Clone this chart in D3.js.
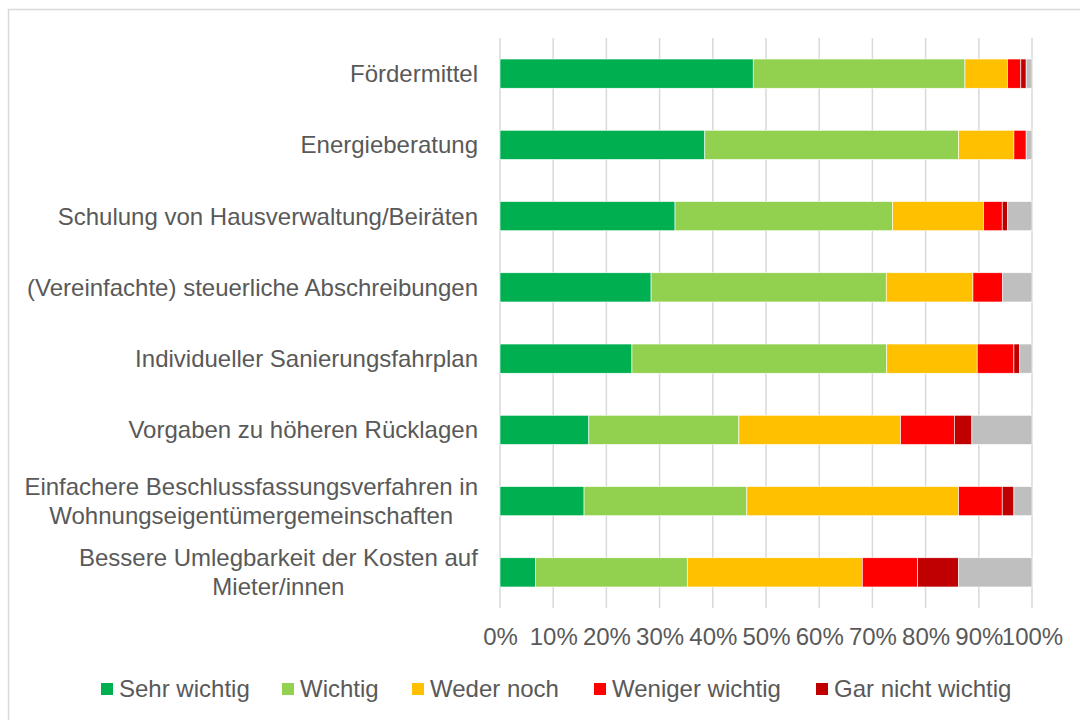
<!DOCTYPE html>
<html lang='de'>
  <meta charset='utf-8'>
  <style>
    body{
      margin: 0;
      background: #fff;
    }
    svg{
      display: block;
      font-family: 'Liberation Sans', Arial, sans-serif;
    }
    text{
      fill: #595959;
      font-size: 24px;
    }
  </style>
  <body>
    <svg width='1080' height='720'></svg>

    <script src='https://d3js.org/d3.v7.min.js'></script>
    <script>
      // Kategorien (von oben nach unten), Zeilenumbruch mit \n
      const categories = [
        'Fördermittel',
        'Energieberatung',
        'Schulung von Hausverwaltung/Beiräten',
        '(Vereinfachte) steuerliche Abschreibungen',
        'Individueller Sanierungsfahrplan',
        'Vorgaben zu höheren Rücklagen',
        'Einfachere Beschlussfassungsverfahren in\nWohnungseigentümergemeinschaften',
        'Bessere Umlegbarkeit der Kosten auf\nMieter/innen'
      ]

      const seriesNames = ['Sehr wichtig', 'Wichtig', 'Weder noch', 'Weniger wichtig', 'Gar nicht wichtig', 'Keine Angabe']
      const seriesColors = ['#00b050', '#92d050', '#ffc000', '#ff0000', '#c00000', '#bfbfbf']

      // Anteile in %, je Kategorie
      const sehrWichtig     = [47.6, 38.5, 32.9, 28.4, 24.8, 16.7, 15.8, 6.7]
      const wichtig         = [39.8, 47.7, 40.9, 44.2, 47.9, 28.2, 30.6, 28.5]
      const wederNoch       = [8.0, 10.4, 17.1, 16.3, 17.0, 30.4, 39.8, 32.9]
      const wenigerWichtig  = [2.5, 2.3, 3.5, 5.6, 6.9, 10.1, 8.2, 10.4]
      const garNichtWichtig = [1.0, 0.0, 1.0, 0.0, 1.1, 3.3, 2.2, 7.7]
      const keineAngabe     = [1.1, 1.1, 4.6, 5.5, 2.3, 11.3, 3.4, 13.8]

      const xTicks = [0, 10, 20, 30, 40, 50, 60, 70, 80, 90, 100]

      const seriesValues = [sehrWichtig, wichtig, wederNoch, wenigerWichtig, garNichtWichtig, keineAngabe]

      // Tabelle für d3.stack
      const table = categories.map((c, i) => {
        let row = {cat: c}
        seriesNames.forEach((s, j) => { row[s] = seriesValues[j][i] })
        return row
      })

      const svg = d3.select('svg')

      // Rahmen (rechts/unten abgeschnitten)
      svg.append('rect')
        .attr('x', 8.5).attr('y', 9.5)
        .attr('width', 1100).attr('height', 760)
        .attr('fill', 'none')
        .attr('stroke', '#d9d9d9')
        .attr('stroke-width', 1.5)

      const x = d3.scaleLinear().domain([0, 100]).range([500, 1032])
      const y = d3.scaleBand().domain(categories).range([38, 608])
                  .paddingInner(0.59).paddingOuter(0.295)
      const color = d3.scaleOrdinal().domain(seriesNames).range(seriesColors)

      // Gitterlinien
      svg.append('g')
        .selectAll('line')
        .data(xTicks)
        .join('line')
        .attr('x1', d => x(d)).attr('x2', d => x(d))
        .attr('y1', 38).attr('y2', 608)
        .attr('stroke', '#d9d9d9')
        .attr('stroke-width', 1.5)

      // gestapelte Balken
      const stacked = d3.stack().keys(seriesNames)(table)
      svg.append('g')
        .selectAll('g')
        .data(stacked)
        .join('g')
        .attr('fill', d => color(d.key))
        .selectAll('rect')
        .data(d => d)
        .join('rect')
        .attr('x', d => x(d[0]))
        .attr('y', d => y(d.data.cat))
        .attr('width', d => x(d[1]) - x(d[0]))
        .attr('height', y.bandwidth())
        .attr('stroke', '#fff')
        .attr('stroke-width', 0.6)

      // Kategorie-Beschriftung, mehrzeilig zentriert, rechtsbündiger Block
      const labelG = svg.append('g')
      categories.forEach((c) => {
        const lines = c.split('\n')
        const cy = y(c) + y.bandwidth() / 2
        const lh = 29
        const t = labelG.append('text')
          .attr('text-anchor', 'middle')
        lines.forEach((l, k) => {
          t.append('tspan')
            .attr('x', 0)
            .attr('y', cy + (k - (lines.length - 1) / 2) * lh)
            .attr('dy', '0.35em')
            .text(l)
        })
        // Blockbreite messen, rechten Rand auf 478 setzen
        const w = t.node().getBBox().width
        t.selectAll('tspan').attr('x', 478 - w / 2)
      })

      // x-Achse (Prozent)
      const xAxis = d3.axisBottom(x)
        .tickValues(xTicks)
        .tickFormat(d => d + '%')
        .tickSize(0)
        .tickPadding(0)
      const axisG = svg.append('g')
        .attr('transform', 'translate(0,637)')
        .call(xAxis)
      axisG.select('.domain').remove()
      axisG.selectAll('text')
        .attr('dy', '0.35em')
        .attr('y', 0)
        .style('font-size', '24px')
        .style('font-family', "'Liberation Sans', Arial, sans-serif")
        .attr('fill', '#595959')

      // Legende (ohne "Keine Angabe")
      const legendX = [101, 282, 412, 594, 816]
      const legend = svg.append('g')
        .selectAll('g')
        .data(seriesNames.slice(0, 5))
        .join('g')
        .attr('transform', (d, i) => `translate(${legendX[i]},689)`)
      legend.append('rect')
        .attr('x', 0).attr('y', -6)
        .attr('width', 12).attr('height', 12)
        .attr('fill', d => color(d))
      legend.append('text')
        .attr('x', 18)
        .attr('dy', '0.35em')
        .text(d => d)
    </script>
</body>
</html>
